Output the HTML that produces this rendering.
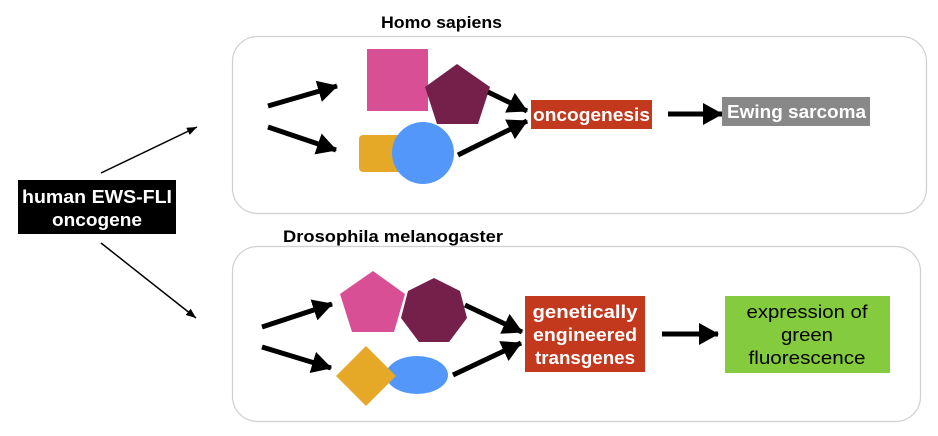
<!DOCTYPE html>
<html><head><meta charset="utf-8"><style>
html,body{margin:0;padding:0;background:#fff;}
svg{display:block;}
text{font-family:"Liberation Sans",Arial,sans-serif;font-weight:bold;}
text.n{font-weight:normal;}
</style></head><body>
<svg width="938" height="436" viewBox="0 0 938 436" xmlns="http://www.w3.org/2000/svg">
<defs>
<marker id="big" markerUnits="userSpaceOnUse" markerWidth="24" markerHeight="26" refX="19" refY="11" orient="auto">
<path d="M0,0 L20,11 L0,22 Z" fill="#000"/>
</marker>
<marker id="sm" markerUnits="userSpaceOnUse" markerWidth="12" markerHeight="12" refX="10" refY="4" orient="auto">
<path d="M0,0 L10,4 L0,8 Z" fill="#000"/>
</marker>
</defs>
<rect x="232.5" y="36.5" width="694" height="177" rx="25" fill="#fff" stroke="#d0d0d0" stroke-width="1.2"/>
<rect x="232.5" y="246.5" width="688" height="175" rx="25" fill="#fff" stroke="#d0d0d0" stroke-width="1.2"/>
<text x="381" y="28" font-size="17" textLength="121" lengthAdjust="spacingAndGlyphs" fill="#000">Homo sapiens</text>
<text x="283" y="242" font-size="17" textLength="220" lengthAdjust="spacingAndGlyphs" fill="#000">Drosophila melanogaster</text>

<rect x="18" y="180" width="158" height="54" fill="#000"/>
<text x="22" y="203" font-size="18" textLength="150" lengthAdjust="spacingAndGlyphs" fill="#fff">human EWS-FLI</text>
<text x="52" y="226" font-size="18" textLength="90" lengthAdjust="spacingAndGlyphs" fill="#fff">oncogene</text>
<line x1="101" y1="173" x2="197" y2="127" stroke="#000" stroke-width="1.5" marker-end="url(#sm)"/>
<line x1="101" y1="243" x2="196" y2="318" stroke="#000" stroke-width="1.5" marker-end="url(#sm)"/>

<!-- top -->
<line x1="268" y1="106" x2="337" y2="86" stroke="#000" stroke-width="5" marker-end="url(#big)"/>
<line x1="268" y1="127" x2="336" y2="150" stroke="#000" stroke-width="5" marker-end="url(#big)"/>
<rect x="367" y="49" width="61" height="62" fill="#d94f95"/>
<polygon points="457,64 490,87 478,124 437,124 425,87" fill="#74204a"/>
<rect x="359" y="135" width="44" height="37" rx="4" fill="#e5a827"/>
<circle cx="423" cy="153" r="31" fill="#5397fb"/>
<line x1="488" y1="92" x2="527" y2="111" stroke="#000" stroke-width="5" marker-end="url(#big)"/>
<line x1="458" y1="155" x2="527" y2="121" stroke="#000" stroke-width="5" marker-end="url(#big)"/>
<rect x="531" y="100" width="121" height="29" fill="#c2391d"/>
<text x="533" y="121" font-size="18" textLength="117" lengthAdjust="spacingAndGlyphs" fill="#fff">oncogenesis</text>
<line x1="668" y1="114" x2="722" y2="114" stroke="#000" stroke-width="5" marker-end="url(#big)"/>
<rect x="722" y="97" width="148" height="29" fill="#888"/>
<text x="727" y="118" font-size="18" textLength="139" lengthAdjust="spacingAndGlyphs" fill="#fff">Ewing sarcoma</text>

<!-- bottom -->
<line x1="262" y1="327" x2="332" y2="304" stroke="#000" stroke-width="5" marker-end="url(#big)"/>
<line x1="262" y1="347" x2="331" y2="368" stroke="#000" stroke-width="5" marker-end="url(#big)"/>
<polygon points="373,271 405,294 394,332 352,332 340,294" fill="#d94f95"/>
<polygon points="434,278 460,291 467,318 449,342 419,342 401,318 408,291" fill="#74204a"/>
<ellipse cx="417" cy="375" rx="31" ry="19" fill="#5397fb"/>
<polygon points="366,346 396,376 366,406 336,376" fill="#e5a827"/>
<line x1="465" y1="305" x2="522" y2="332" stroke="#000" stroke-width="5" marker-end="url(#big)"/>
<line x1="453" y1="375" x2="521" y2="343" stroke="#000" stroke-width="5" marker-end="url(#big)"/>
<rect x="525" y="296" width="120" height="76" fill="#c2391d"/>
<text x="585" y="318" font-size="18" text-anchor="middle" textLength="105" lengthAdjust="spacingAndGlyphs" fill="#fff">genetically</text>
<text x="585" y="341" font-size="18" text-anchor="middle" textLength="104" lengthAdjust="spacingAndGlyphs" fill="#fff">engineered</text>
<text x="585" y="364" font-size="18" text-anchor="middle" textLength="100" lengthAdjust="spacingAndGlyphs" fill="#fff">transgenes</text>
<line x1="662" y1="334" x2="718" y2="334" stroke="#000" stroke-width="5" marker-end="url(#big)"/>
<rect x="725" y="296" width="165" height="77" fill="#84cc3e"/>
<text class="n" x="807" y="318" font-size="18" text-anchor="middle" textLength="121" lengthAdjust="spacingAndGlyphs" fill="#000">expression of</text>
<text class="n" x="807" y="341" font-size="18" text-anchor="middle" textLength="52" lengthAdjust="spacingAndGlyphs" fill="#000">green</text>
<text class="n" x="807" y="364" font-size="18" text-anchor="middle" textLength="117" lengthAdjust="spacingAndGlyphs" fill="#000">fluorescence</text>
</svg>
</body></html>
